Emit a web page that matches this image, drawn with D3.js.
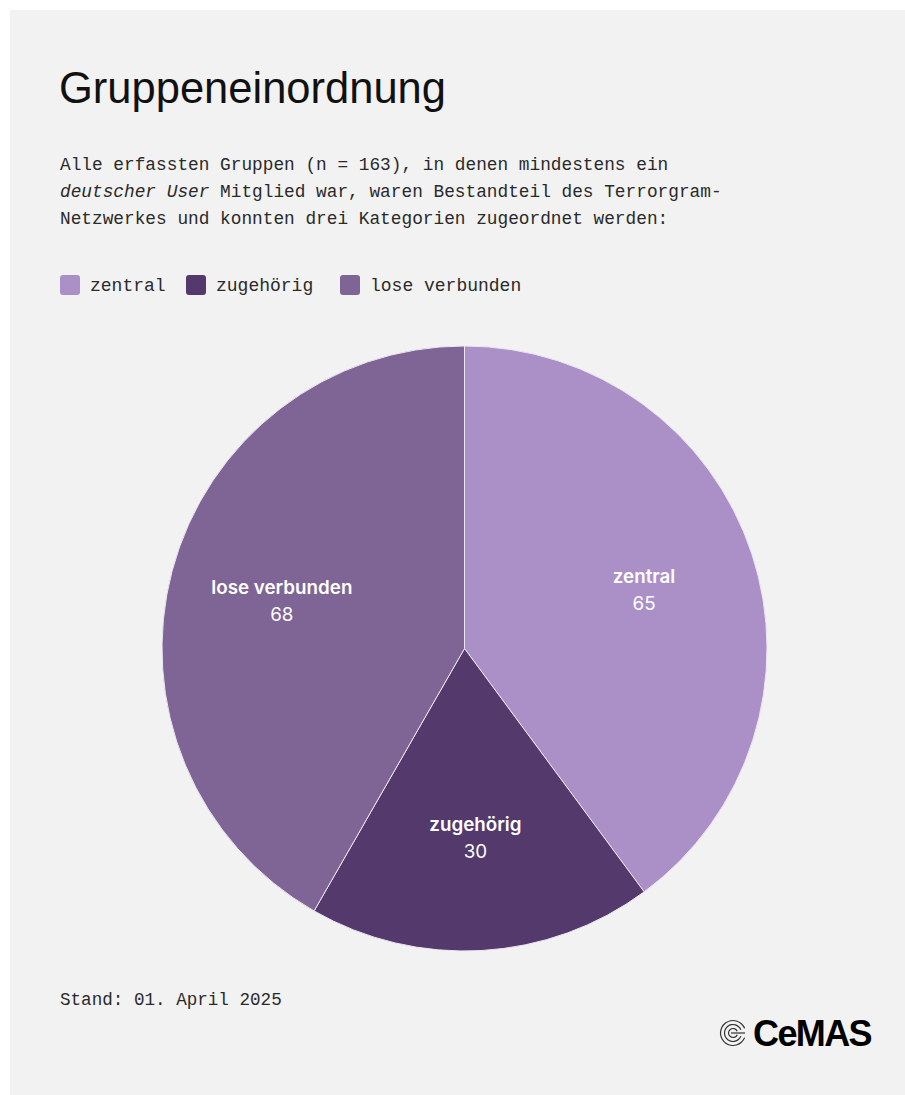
<!DOCTYPE html>
<html>
<head>
<meta charset="utf-8">
<script src="https://cdn.jsdelivr.net/npm/d3@7"></script>
<style>
  html, body { margin: 0; padding: 0; background: #ffffff; }
  svg { display: block; }
</style>
</head>
<body>
<svg id="chart" width="905" height="1095"></svg>
<script>
const categories = ["zentral", "zugehörig", "lose verbunden"];
const values = [65, 30, 68];
const colors = ["#ab90c8", "#543a6c", "#7e6595"];
const title = "Gruppeneinordnung";
const subtitleLines = [
  [{t: "Alle erfassten Gruppen (n = 163), in denen mindestens ein", i: false}],
  [{t: "deutscher User", i: true}, {t: " Mitglied war, waren Bestandteil des Terrorgram-", i: false}],
  [{t: "Netzwerkes und konnten drei Kategorien zugeordnet werden:", i: false}]
];
const footnote = "Stand: 01. April 2025";
const brand = "CeMAS";

const svg = d3.select("#chart");
const W = 905, H = 1095;

svg.append("rect").attr("x", 10).attr("y", 10).attr("width", W - 10).attr("height", H - 10).attr("fill", "#f2f2f2");

svg.append("text").attr("x", 59).attr("y", 103)
  .attr("font-family", "'Liberation Sans', Arial, sans-serif")
  .attr("font-size", 43.5).attr("fill", "#111").text(title);

const mono = "'Liberation Mono', 'DejaVu Sans Mono', monospace";
subtitleLines.forEach((line, k) => {
  const t = svg.append("text").attr("x", 60).attr("y", 170 + k * 27)
    .attr("font-family", mono).attr("font-size", 17.8).attr("fill", "#2a2a2a");
  line.forEach(seg => {
    t.append("tspan").attr("font-style", seg.i ? "italic" : "normal").text(seg.t);
  });
});

// legend
const legendX = [60, 186, 340];
const lg = svg.append("g");
categories.forEach((c, i) => {
  lg.append("rect").attr("x", legendX[i]).attr("y", 275).attr("width", 20).attr("height", 20)
    .attr("rx", 3).attr("fill", colors[i]);
  lg.append("text").attr("x", legendX[i] + 30).attr("y", 291)
    .attr("font-family", mono).attr("font-size", 18).attr("fill", "#2a2a2a").text(c);
});

// pie
const cx = 464.5, cy = 648.5, r = 302.5;
const pie = d3.pie().sort(null).value(d => d.v);
const data = pie(categories.map((c, i) => ({c, v: values[i], col: colors[i]})));
const arc = d3.arc().innerRadius(0).outerRadius(r);
const labelArc = d3.arc().innerRadius(189).outerRadius(189);
const g = svg.append("g").attr("transform", `translate(${cx},${cy})`);
g.selectAll("path").data(data).enter().append("path")
  .attr("d", arc).attr("fill", d => d.data.col)
  .attr("stroke", "#ece6f2").attr("stroke-width", 1).attr("stroke-linejoin", "round");

const lab = g.selectAll("g.lab").data(data).enter().append("g")
  .attr("transform", d => `translate(${labelArc.centroid(d)})`);
lab.append("text").attr("y", -6).attr("text-anchor", "middle")
  .attr("font-family", "Inter, 'Liberation Sans', sans-serif").attr("font-weight", 600)
  .attr("font-size", 18.8).attr("fill", "#ffffff").text(d => d.data.c);
lab.append("text").attr("y", 21).attr("text-anchor", "middle")
  .attr("font-family", "Inter, 'Liberation Sans', sans-serif").attr("font-weight", 400)
  .attr("font-size", 18.8).attr("fill", "#ffffff").text(d => d.data.v);

svg.append("text").attr("x", 60).attr("y", 1005)
  .attr("font-family", mono).attr("font-size", 17.6).attr("fill", "#2a2a2a").text(footnote);

// logo
const logo = svg.append("g").attr("transform", "translate(733,1033)");
[13, 9, 5].forEach(rr => {
  logo.append("path")
    .attr("d", d3.arc().innerRadius(rr - 1.1).outerRadius(rr + 0.1).startAngle(Math.PI * 0.62).endAngle(Math.PI * 2.38)())
    .attr("fill", "#333");
});
logo.append("rect").attr("x", -2).attr("y", -0.6).attr("width", 14).attr("height", 1.2).attr("fill", "#333");
svg.append("text").attr("x", 753).attr("y", 1046)
  .attr("font-family", "'Liberation Sans', Arial, sans-serif").attr("font-weight", 700)
  .attr("font-size", 36).attr("letter-spacing", -1.6).attr("fill", "#000").text(brand);
</script>
</body>
</html>
